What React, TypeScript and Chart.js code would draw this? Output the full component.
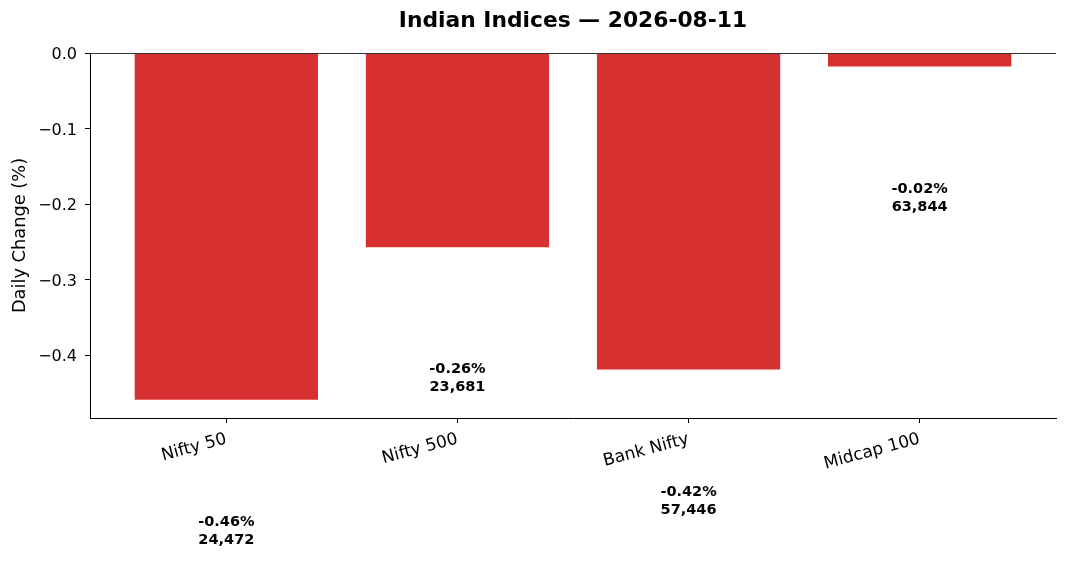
import { useEffect, useRef } from "react";
import Chart, { type Plugin } from "chart.js/auto";

const FONT = "'DejaVu Sans', sans-serif";
const RED = "#d63031";
const INK = "#000000";

// data
const INDICES = ["Nifty 50", "Nifty 500", "Bank Nifty", "Midcap 100"];
const CHANGE_PCT = [-0.46, -0.258, -0.42, -0.019];
const LEVELS = [24472, 23681, 57446, 63844];
const Y_TICKS = [0, -0.1, -0.2, -0.3, -0.4];
const TITLE = "Indian Indices — 2026-08-11";
const Y_TITLE = "Daily Change (%)";

const LABEL_OFFSET = 0.173; // value labels sit this far below the bar end

const fmtTick = (n: number) => (n < 0 ? "\u2212" : "") + Math.abs(n).toFixed(1);

const overlay: Plugin<"bar"> = {
  id: "overlay",
  afterDraw(chart) {
    const { ctx, chartArea, scales } = chart;
    const x = scales.x;
    const y = scales.y;
    ctx.save();

    // title
    ctx.fillStyle = INK;
    ctx.font = `bold 21.8px ${FONT}`;
    ctx.textAlign = "center";
    ctx.textBaseline = "middle";
    ctx.fillText(TITLE, (chartArea.left + chartArea.right) / 2, 21);

    // y axis title
    ctx.save();
    ctx.translate(20, (chartArea.top + chartArea.bottom) / 2);
    ctx.rotate(-Math.PI / 2);
    ctx.font = `17.8px ${FONT}`;
    ctx.fillText(Y_TITLE, 0, 0);
    ctx.restore();

    // y tick labels (centred on the digits like matplotlib)
    ctx.font = `16px ${FONT}`;
    ctx.textAlign = "right";
    Y_TICKS.forEach((t) => {
      ctx.fillText(fmtTick(t), chartArea.left - 13, y.getPixelForValue(t) + 2);
    });

    // zero line along the top
    ctx.strokeStyle = "#333333";
    ctx.lineWidth = 1;
    ctx.beginPath();
    const y0 = Math.round(y.getPixelForValue(0)) + 0.5;
    ctx.moveTo(chartArea.left, y0);
    ctx.lineTo(chartArea.right, y0);
    ctx.stroke();

    // value labels
    ctx.textAlign = "center";
    ctx.font = `bold 14.5px ${FONT}`;
    CHANGE_PCT.forEach((v, i) => {
      const px = x.getPixelForValue(i);
      const py = y.getPixelForValue(v - LABEL_OFFSET);
      ctx.fillText(`${v.toFixed(2)}%`, px, py - 9);
      ctx.fillText(LEVELS[i].toLocaleString("en-US"), px, py + 9);
    });
    ctx.restore();
  },
};

export default function App() {
  const ref = useRef<HTMLCanvasElement>(null);

  useEffect(() => {
    document.body.style.margin = "0";
    if (!ref.current) return;
    const chart = new Chart(ref.current, {
      type: "bar",
      data: {
        datasets: [
          {
            data: CHANGE_PCT.map((v, i) => ({ x: i, y: v })),
            backgroundColor: RED,
            borderColor: "rgba(255,255,255,0.75)",
            borderWidth: 0.8,
            barPercentage: 0.8,
            categoryPercentage: 1,
          },
        ],
      },
      options: {
        animation: false,
        responsive: false,
        devicePixelRatio: 1,
        layout: { padding: { top: 53, right: 12, left: 0, bottom: 0 } },
        plugins: { legend: { display: false }, tooltip: { enabled: false } },
        scales: {
          x: {
            type: "linear",
            offset: false,
            min: -0.59,
            max: 3.59,
            afterBuildTicks: (s) => {
              s.ticks = INDICES.map((_, i) => ({ value: i }));
            },
            afterFit: (s) => {
              s.height = 144;
            },
            grid: { offset: false, drawOnChartArea: false, drawTicks: true, tickLength: 5, color: INK },
            border: { display: true, color: INK, width: 1 },
            ticks: {
              color: INK,
              font: { family: FONT, size: 17 },
              minRotation: 15,
              maxRotation: 15,
              padding: 6,
              callback: (v) => INDICES[Number(v)] ?? "",
            },
          },
          y: {
            min: -0.483,
            max: 0,
            afterBuildTicks: (s) => {
              s.ticks = Y_TICKS.map((value) => ({ value }));
            },
            afterFit: (s) => {
              s.width = 90;
            },
            grid: { drawOnChartArea: false, drawTicks: true, tickLength: 5, color: INK },
            border: { display: true, color: INK, width: 1 },
            ticks: { display: false },
          },
        },
      },
      plugins: [overlay],
    });
    return () => chart.destroy();
  }, []);

  return (
    <div style={{ position: "relative", width: 1068, height: 562 }}>
      <canvas ref={ref} width={1068} height={562} style={{ display: "block" }} />
    </div>
  );
}
